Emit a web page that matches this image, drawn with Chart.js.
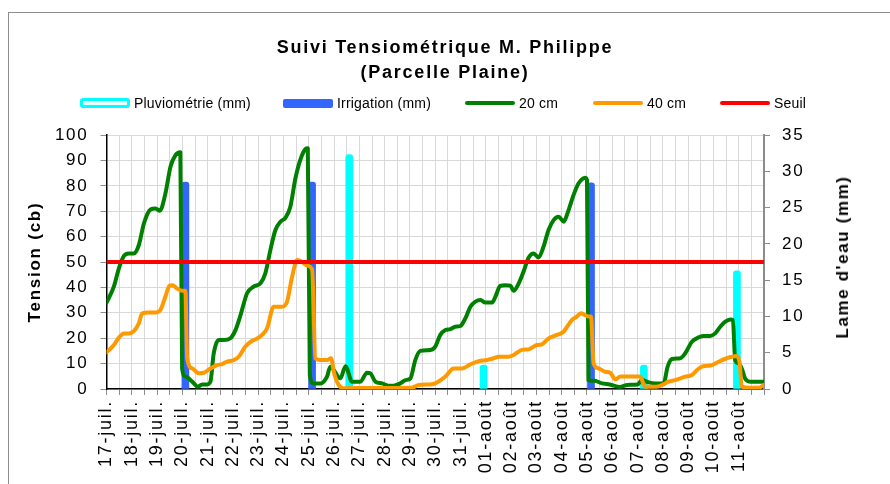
<!DOCTYPE html>
<html>
<head>
<meta charset="utf-8">
<script src="https://cdn.jsdelivr.net/npm/chart.js@4.4.1/dist/chart.umd.min.js"></script>
<style>
  html, body { margin: 0; padding: 0; background: #fff; }
  body { width: 890px; height: 484px; overflow: hidden; position: relative; font-family: "Liberation Sans", Arial, sans-serif; }
  #frame { position: absolute; left: 8px; top: 12px; width: 900px; height: 500px; border: 1.5px solid #8c8c8c; }
  #wrap { position: absolute; left: 0; top: 0; width: 890px; height: 484px; }
  .lg { position: absolute; top: 95px; height: 16px; line-height: 16px; font-size: 14px; color: #000; white-space: nowrap; letter-spacing: 0.2px; }
  .sw { display: inline-block; width: 50px; vertical-align: middle; margin-right: 4px; box-sizing: border-box; position: relative; top: -1px; }
  #y2title { position: absolute; left: 843px; top: 257px; transform: translate(-50%, -50%) rotate(-90deg);
             font-weight: bold; font-size: 17px; white-space: nowrap; letter-spacing: 1.6px; }
</style>
</head>
<body>
<div id="frame"></div>
<div id="wrap"><canvas id="c" width="890" height="484"></canvas></div>
<div id="legend"></div>
<div id="y2title">Lame d'eau (mm)</div>
<script>
// jours (0 = 17-juil. 0h)
const dateLabels = ['17-juil.','18-juil.','19-juil.','20-juil.','21-juil.','22-juil.','23-juil.','24-juil.',
  '25-juil.','26-juil.','27-juil.','28-juil.','29-juil.','30-juil.','31-juil.','01-août','02-août','03-août',
  '04-août','05-août','06-août','07-août','08-août','09-août','10-août','11-août'];

const pluvioDays = [9.6, 14.91, 21.25, 24.93];
const pluvioMm   = [32.3, 3.3, 3.3, 16.3];

const irrigDays = [3.12, 8.13, 19.16];
const irrigMm   = [28.5, 28.5, 28.4];

const t20 = [0, 0.29, 0.49, 0.69, 0.88, 1.08, 1.28, 1.48, 1.74, 1.94, 2.11, 2.33, 2.53, 2.73, 2.92,
  2.99, 3.12, 3.39, 3.61, 3.78, 3.98, 4.11, 4.24, 4.44, 4.64, 4.9, 5.1, 5.3, 5.56, 5.82, 6.09, 6.28,
  6.48, 6.68, 6.88, 7.08, 7.27, 7.47, 7.67, 7.87, 7.96, 8.04, 8.19, 8.46, 8.72, 8.85, 9.25, 9.45,
  9.71, 10.04, 10.3, 10.43, 10.63, 10.9, 11.16, 11.36, 11.62, 11.82, 12.02, 12.21, 12.41, 12.81,
  13.0, 13.2, 13.4, 13.6, 13.79, 13.99, 14.19, 14.39, 14.59, 14.79, 14.98, 15.25, 15.38, 15.57,
  15.77, 15.97, 16.1, 16.3, 16.49, 16.69, 16.89, 17.09, 17.28, 17.48, 17.68, 17.88, 18.08, 18.23,
  18.47, 18.67, 18.93, 19.0, 19.06, 19.3, 19.6, 19.9, 20.3, 20.6, 21.0, 21.17, 21.44, 21.7, 22.03,
  22.19, 22.36, 22.69, 22.88, 23.15, 23.35, 23.6, 23.87, 24.07, 24.27, 24.47, 24.66, 24.77, 24.86,
  24.99, 25.12, 25.25, 25.45, 25.72, 26];
const v20 = [34, 40.3, 47.5, 52.4, 53.4, 53.4, 56.7, 65.2, 70.7, 71.1, 70.2, 77, 87.5, 92.1, 93.2,
  8.1, 4.9, 2.9, 0.9, 1.8, 1.8, 2.9, 14, 19.3, 19.3, 20, 23.2, 29.1, 37.7, 40.3, 41.6, 45.5,
  54.7, 62.6, 65.9, 67.5, 71.8, 82.9, 90.4, 94.5, 94.8, 5.5, 2.2, 2.2, 4.9, 8.8, 4.2, 9.0,
  2.9, 2.9, 6.4, 6.2, 2.9, 2.2, 1.3, 1.3, 2.2, 3.5, 4.2, 11.4, 15, 15.4,
  16.7, 21.3, 23.2, 23.6, 24.5, 24.8, 27.8, 32.4, 34.4, 35, 34.1, 34.1, 36.4, 40.6,
  40.9, 40.7, 38.7, 41.6, 46.2, 51.7, 53.4, 51.8, 56, 62.6, 66.5, 67.8, 65.9, 69.2,
  76.4, 81, 83.2, 82.3, 3.5, 3.2, 2.2, 1.8, 0.8, 1.6, 1.8, 3.5, 2.6, 2.2, 2.2,
  8.8, 11.8, 12.1, 14, 18.6, 20, 20.9, 20.9, 21.9, 24.5, 26.5, 27.4, 27.2, 11.4,
  10.1, 8.1, 4.2, 2.9, 2.9, 2.9];

const t40 = [0, 0.29, 0.49, 0.69, 0.88, 1.08, 1.28, 1.41, 1.67, 1.94, 2.13, 2.33, 2.49, 2.6, 2.79,
  2.99, 3.12, 3.19, 3.39, 3.65, 3.85, 4.11, 4.37, 4.57, 4.77, 5.03, 5.23, 5.49, 5.76, 5.96, 6.15,
  6.35, 6.61, 6.94, 7.14, 7.34, 7.54, 7.73, 7.93, 8.13, 8.26, 8.46, 8.72, 8.88, 9.0, 9.18, 9.38,
  10.5, 12.08, 12.35, 12.81, 13.0, 13.4, 13.73, 14.06, 14.39, 14.72, 15.05, 15.31, 15.51, 15.9,
  16.1, 16.43, 16.69, 17.02, 17.22, 17.48, 17.81, 18.08, 18.21, 18.41, 18.6, 18.76, 18.93, 19.07,
  19.16, 19.26, 19.46, 19.72, 19.92, 20.12, 20.32, 20.58, 21.1, 21.3, 21.76, 22.02, 22.22, 22.49,
  22.69, 22.88, 23.15, 23.35, 23.55, 23.74, 23.94, 24.14, 24.34, 24.53, 24.73, 24.9, 25.03, 25.12,
  25.45, 25.78, 26];
const v40 = [14.4, 17.3, 20.3, 21.9, 21.9, 22.8, 25.9, 29.8, 30.1, 30.1, 31.1, 36.4, 40.7, 40.9, 39.6,
  38.7, 38.7, 12.1, 8.1, 6.2, 6.4, 8.1, 9.4, 9.8, 10.8, 11.4, 12.7, 16.7, 19, 19.9, 21.3,
  23.9, 32.4, 32.4, 34.4, 44.2, 50.8, 50.1, 48.6, 47.1, 12.1, 11.4, 11.4, 12.1, 6.2, 1.6, 0.3,
  0.4, 0.5, 1.6, 1.8, 2.2, 4.9, 8.1, 8.1, 9.7, 11, 11.4, 12.1, 12.7, 12.7,
  13.4, 15.4, 15.6, 17.3, 17.6, 19.9, 21.3, 22.6, 24.5, 27.2, 28.5, 29.8, 29.1, 28.5,
  28.5, 10.1, 8.1, 6.8, 6.4, 3.8, 4.9, 4.9, 4.9, 0.9, 0.9, 1.8, 2.9, 3.5,
  4.2, 4.9, 5.5, 7.5, 8.8, 9.1, 9.4, 10.4, 11.4, 12.1, 12.7, 13, 10.8, 0.9,
  0.5, 0.5, 1.6];

const seuil = 50;

const legendItems = [
  { label: 'Pluviométrie (mm)', color: '#00ffff', kind: 'outline', left: 80 },
  { label: 'Irrigation (mm)', color: '#3366ff', kind: 'box', left: 283 },
  { label: '20 cm', color: '#008000', kind: 'line', left: 465 },
  { label: '40 cm', color: '#ff9900', kind: 'line', left: 593 },
  { label: 'Seuil', color: '#ff0000', kind: 'line', left: 720 }
];

const legend = document.getElementById('legend');
legendItems.forEach(it => {
  const d = document.createElement('div');
  d.className = 'lg';
  d.style.left = it.left + 'px';
  const sw = document.createElement('span');
  sw.className = 'sw';
  if (it.kind === 'outline') {
    sw.style.height = '10px'; sw.style.border = '3px solid ' + it.color; sw.style.background = '#e8ffff'; sw.style.borderRadius = '3px';
  } else if (it.kind === 'box') {
    sw.style.height = '9px'; sw.style.background = it.color; sw.style.borderRadius = '2px';
  } else {
    sw.style.height = '4px'; sw.style.background = it.color; sw.style.borderRadius = '2px';
  }
  d.appendChild(sw);
  d.appendChild(document.createTextNode(it.label));
  legend.appendChild(d);
});

const pts = (xs, ys) => xs.map((x, i) => ({ x: x, y: ys[i] }));

Chart.defaults.font.family = '"Liberation Sans", Arial, sans-serif';
Chart.defaults.color = '#000';

// texte un peu plus large, comme dans le graphique Excel
const wideText = {
  id: 'wideText',
  beforeLayout(chart) { chart.ctx.letterSpacing = '1.75px'; },
  beforeDraw(chart) { chart.ctx.letterSpacing = '1.75px'; }
};

const halfDays = [];
for (let i = 0; i <= dateLabels.length * 2; i++) halfDays.push(i / 2);

new Chart(document.getElementById('c'), {
  type: 'line',
  data: {
    datasets: [
      { type: 'line', label: 'Seuil', data: [{ x: 0, y: seuil }, { x: dateLabels.length, y: seuil }],
        borderColor: '#ff0000', borderWidth: 4, pointRadius: 0, yAxisID: 'y', order: 0 },
      { type: 'line', label: '40 cm', data: pts(t40, v40), borderColor: '#ff9900', borderWidth: 4,
        pointRadius: 0, cubicInterpolationMode: 'monotone', borderJoinStyle: 'round', borderCapStyle: 'round',
        yAxisID: 'y', order: 1 },
      { type: 'line', label: '20 cm', data: pts(t20, v20), borderColor: '#008000', borderWidth: 4,
        pointRadius: 0, cubicInterpolationMode: 'monotone', borderJoinStyle: 'round', borderCapStyle: 'round',
        yAxisID: 'y', order: 2 },
      { type: 'bar', label: 'Irrigation (mm)', data: pts(irrigDays, irrigMm), backgroundColor: '#3366ff',
        barThickness: 7, borderRadius: 3, borderSkipped: 'start', grouped: false, yAxisID: 'y2', order: 3 },
      { type: 'bar', label: 'Pluviométrie (mm)', data: pts(pluvioDays, pluvioMm), backgroundColor: '#00ffff',
        barThickness: 7, borderRadius: 3, borderSkipped: 'start', grouped: false, yAxisID: 'y2', order: 4 }
    ]
  },
  options: {
    responsive: false,
    animation: false,
    layout: { padding: 0 },
    plugins: {
      legend: { display: false },
      tooltip: { enabled: false },
      title: {
        display: true,
        text: ['Suivi Tensiométrique M. Philippe', '(Parcelle Plaine)'],
        font: { size: 18, weight: 'bold', lineHeight: 1.39 },
        color: '#000',
        padding: { top: 36, bottom: 49 }
      }
    },
    scales: {
      x: {
        type: 'linear', min: 0, max: dateLabels.length, offset: false,
        afterBuildTicks: s => { s.ticks = halfDays.map(v => ({ value: v })); },
        ticks: {
          autoSkip: false, maxRotation: 90, minRotation: 90, padding: 5,
          font: { size: 18 }, color: '#000',
          callback: v => (Number.isInteger(v) && v < dateLabels.length) ? dateLabels[v] : ''
        },
        grid: { color: '#d9d9d9', lineWidth: 1, tickLength: 6, tickColor: '#8c8c8c', offset: false },
        border: { color: '#000', width: 1.5 },
        afterFit: s => { s.height = 95; }
      },
      y: {
        position: 'left', min: 0, max: 100,
        ticks: { stepSize: 10, padding: 12, font: { size: 17 }, color: '#000' },
        grid: { color: '#d9d9d9', lineWidth: 1, tickLength: 6, tickColor: '#8c8c8c' },
        border: { color: '#000', width: 1.5 },
        title: { display: true, text: 'Tension (cb)', font: { size: 17, weight: 'bold' }, color: '#000', padding: { top: 25 } },
        afterFit: s => { s.width = 106.5; }
      },
      y2: {
        position: 'right', min: 0, max: 35,
        ticks: { stepSize: 5, padding: 12, font: { size: 17 }, color: '#000' },
        grid: { drawOnChartArea: false, tickLength: 6, tickColor: '#8c8c8c' },
        border: { color: '#8c8c8c', width: 2 },
        afterFit: s => { s.width = 126; }
      }
    }
  },
  plugins: [wideText]
});
</script>
</body>
</html>
